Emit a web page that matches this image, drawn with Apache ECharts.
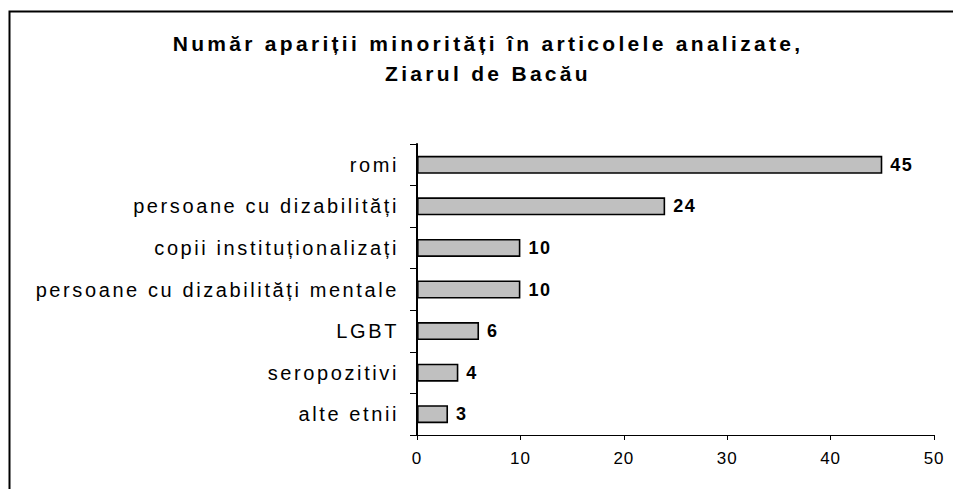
<!DOCTYPE html>
<html>
<head>
<meta charset="utf-8">
<style>
  html, body { margin: 0; padding: 0; background: #fff; }
  #chart { width: 953px; height: 489px; }
  /* spatiere intre litere ca in graficul Excel original */
  #chart text[style*="font-size: 21px"] { letter-spacing: 3.3px; }
  #chart text[style*="font-size: 20px"] { letter-spacing: 2.6px; }
  #chart text[style*="font-size: 18px"] { letter-spacing: 1.5px; }
  #chart text[style*="font-size: 17px"] { letter-spacing: 0.9px; }
</style>
<script src="https://cdn.jsdelivr.net/npm/echarts@6/dist/echarts.min.js"></script>
</head>
<body>
<div id="chart"></div>
<script>
// date, de jos in sus (axa categoriilor)
const categories = [
  'alte etnii',
  'seropozitivi',
  'LGBT',
  'persoane cu dizabilități mentale',
  'copii instituționalizați',
  'persoane cu dizabilități',
  'romi'
]
const values = [3, 4, 6, 10, 10, 24, 45]
const xTicks = [0, 10, 20, 30, 40, 50]

const chart = echarts.init(document.getElementById('chart'), null, { renderer: 'svg' })

const font = 'Liberation Sans, Arial, sans-serif'

const option = {
  animation: false,
  backgroundColor: '#fff',
  textStyle: { fontFamily: font },
  title: {
    text: 'Număr apariții minorități în articolele analizate,\nZiarul de Bacău',
    left: 488,
    top: 28,
    padding: 0,
    textAlign: 'center',
    textStyle: {
      fontSize: 21,
      fontWeight: 'bold',
      color: '#000',
      lineHeight: 30,
      fontFamily: font
    }
  },
  graphic: [
    {
      type: 'rect',
      shape: { x: 9.5, y: 11.5, width: 1200, height: 1200 },
      style: { fill: 'none', stroke: '#000', lineWidth: 2 },
      silent: true
    }
  ],
  grid: {
    left: 417,
    right: 19,
    top: 144,
    bottom: 54
  },
  xAxis: {
    type: 'value',
    min: xTicks[0],
    max: xTicks[xTicks.length - 1],
    interval: 10,
    axisLine: { show: true, lineStyle: { color: '#000', width: 1 } },
    axisTick: { show: true, length: 5, lineStyle: { color: '#000' } },
    axisLabel: { color: '#000', fontSize: 17, margin: 15 },
    splitLine: { show: false }
  },
  yAxis: {
    type: 'category',
    data: categories,
    axisLine: { show: true, lineStyle: { color: '#000', width: 2 } },
    axisTick: { show: true, length: 7, lineStyle: { color: '#000' } },
    axisLabel: { color: '#000', fontSize: 20, margin: 18 }
  },
  series: [
    {
      type: 'bar',
      data: values,
      barWidth: 18,
      itemStyle: {
        color: '#c0c0c0',
        borderColor: '#000',
        borderWidth: 1.6
      },
      label: {
        show: true,
        position: 'right',
        distance: 8,
        color: '#000',
        fontSize: 18,
        fontWeight: 'bold'
      }
    }
  ]
}

chart.setOption(option)
</script>
</body>
</html>
